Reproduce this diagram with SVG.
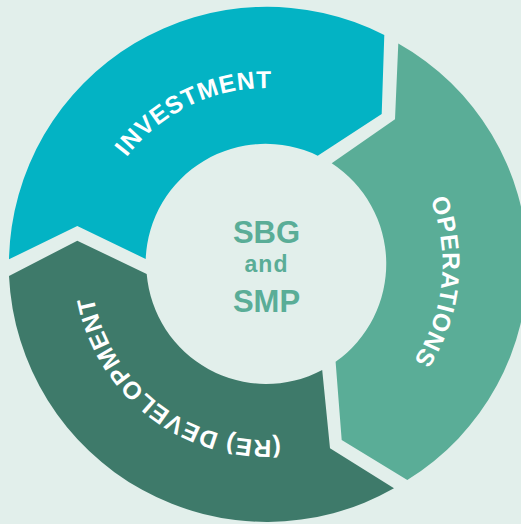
<svg xmlns="http://www.w3.org/2000/svg" width="521" height="524" viewBox="0 0 521 524">
  <defs>
    <style>
      .seg-label { font-family: "Liberation Sans", Arial, sans-serif; font-weight: 700; font-size: 24.5px; fill: #ffffff; letter-spacing: 0.9px; }
      .center-label { font-family: "Liberation Sans", Arial, sans-serif; font-weight: 700; fill: #5aad97; text-anchor: middle; }
    </style>
    <path id="arc-investment" d="M 91.07 249.9 A 176 176 0 0 1 366.45 119.2" fill="none"/>
    <path id="arc-operations" d="M 369.95 121.6 A 176 176 0 0 1 338.08 424.8" fill="none"/>
    <path id="arc-development" d="M 333.85 426.6 A 176 176 0 0 1 92.0 241.0" fill="none"/>
  </defs>
  <rect x="0" y="0" width="521" height="524" fill="#e2efeb"/>

  <g id="connectors"></g>

  <g id="node-investment">
    <path d="M 9 259.3 A 258 258 0 0 1 384.3 35 L 381.7 114 L 317.7 155.7 A 120 120 0 0 0 145.7 259 L 77.3 226 Z" fill="#03b3c4"/>
    <text class="seg-label"><textPath href="#arc-investment" startOffset="50%" text-anchor="middle">INVESTMENT</textPath></text>
  </g>

  <g id="node-operations">
    <path d="M 398.3 43.5 A 253.3 253.3 0 0 1 407.3 480 L 341.7 440 L 335.6 361.8 A 120 120 0 0 0 331.7 163.3 L 395 119.3 Z" fill="#5aad97"/>
    <text class="seg-label"><textPath href="#arc-operations" startOffset="50%" text-anchor="middle">OPERATIONS</textPath></text>
  </g>

  <g id="node-development">
    <path d="M 394 488.3 A 258 258 0 0 1 9 276 L 77.3 240.7 L 146.7 274 A 120 120 0 0 0 322.2 370.1 L 330 448.3 Z" fill="#3e7a6a"/>
    <text class="seg-label"><textPath href="#arc-development" startOffset="50%" text-anchor="middle">(RE) DEVELOPMENT</textPath></text>
  </g>

  <g id="node-center">
    <circle cx="266.5" cy="264" r="119" fill="#e2efeb"/>
    <text class="center-label" x="266.5" y="243.3" font-size="31">SBG</text>
    <text class="center-label" x="266.5" y="271.5" font-size="23" letter-spacing="1">and</text>
    <text class="center-label" x="266.5" y="311.7" font-size="31">SMP</text>
  </g>
</svg>
